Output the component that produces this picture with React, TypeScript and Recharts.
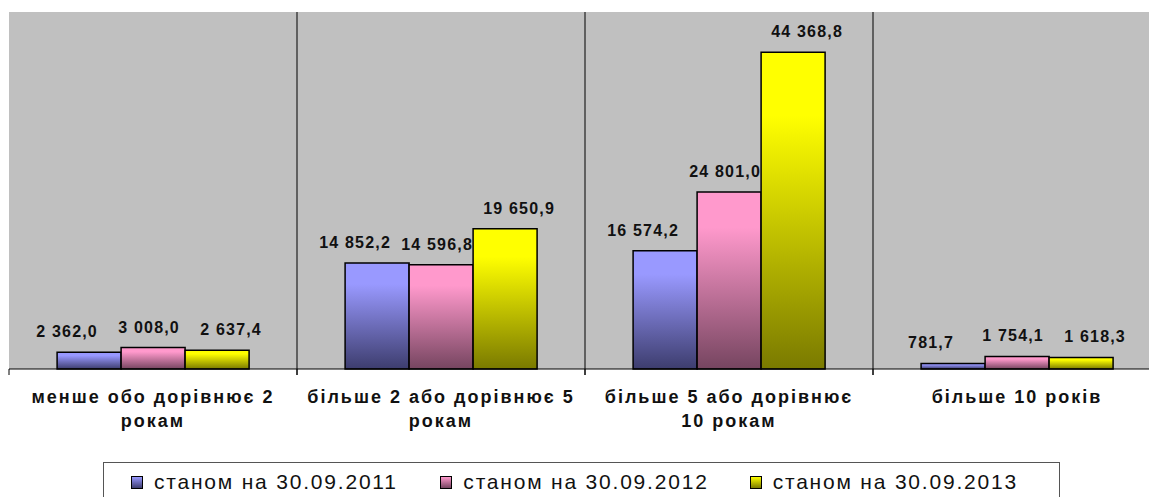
import React from 'react';
import { BarChart, Bar, XAxis, YAxis, CartesianGrid, Legend, LabelList } from 'recharts';

const categories = [
  'менше обо дорівнює 2\nрокам',
  'більше 2 або дорівнює 5\nрокам',
  'більше 5 або дорівнює\n10 рокам',
  'більше 10 років',
];
const values2011 = [2362.0, 14852.2, 16574.2, 781.7];
const values2012 = [3008.0, 14596.8, 24801.0, 1754.1];
const values2013 = [2637.4, 19650.9, 44368.8, 1618.3];
const seriesNames = ['станом на 30.09.2011', 'станом на 30.09.2012', 'станом на 30.09.2013'];

const data = categories.map((name, i) => ({
  name,
  s2011: values2011[i],
  s2012: values2012[i],
  s2013: values2013[i],
}));

// labelDx: Excel nudges the outer labels sideways so they don't collide
const SERIES = [
  { key: 's2011', name: seriesNames[0], top: '#9999ff', bottom: '#3d3d6e', labelDx: -22 },
  { key: 's2012', name: seriesNames[1], top: '#ff99cc', bottom: '#764560', labelDx: -4 },
  { key: 's2013', name: seriesNames[2], top: '#ffff00', bottom: '#7a7a00', labelDx: 14 },
];

const FONT = '"Liberation Sans", Arial, sans-serif';
const CHART_W = 1170;
const MARGIN = { top: 12, right: 9, left: 9, bottom: 42 };
const BAND = (CHART_W - MARGIN.left - MARGIN.right) / categories.length;

const fmt = (v: number) => {
  const [int, dec] = v.toFixed(1).split('.');
  return int.replace(/\B(?=(\d{3})+(?!\d))/g, ' ') + ',' + dec;
};

const ValueLabel = (props: any) => {
  const { x, y, width, value, dx = 0 } = props;
  return (
    <text
      x={x + width / 2 + dx}
      y={y - 15}
      textAnchor="middle"
      fontFamily={FONT}
      fontWeight="bold"
      fontSize={16}
      letterSpacing={1.2}
      fill="#111"
    >
      {fmt(value)}
    </text>
  );
};

const CategoryTick = (props: any) => {
  const { x, y, payload } = props;
  const lines = String(payload.value).split('\n');
  return (
    <g>
      <line x1={x - BAND / 2} x2={x - BAND / 2} y1={y} y2={y + 6} stroke="#000" />
      <line x1={x + BAND / 2} x2={x + BAND / 2} y1={y} y2={y + 6} stroke="#000" />
      {lines.map((line, i) => (
        <text
          key={i}
          x={x}
          y={y + 34 + i * 24}
          textAnchor="middle"
          fontFamily={FONT}
          fontWeight="bold"
          fontSize={18}
          letterSpacing={2}
          fill="#111"
        >
          {line}
        </text>
      ))}
    </g>
  );
};

const LegendBox = () => (
  <div
    style={{
      border: '1px solid #555',
      height: 40,
      boxSizing: 'border-box',
      display: 'flex',
      alignItems: 'center',
      paddingLeft: 27,
      fontFamily: FONT,
      fontSize: 21,
      letterSpacing: 1.8,
      color: '#111',
    }}
  >
    {SERIES.map((s) => (
      <div key={s.key} style={{ width: 320, display: 'flex', alignItems: 'center' }}>
        <span
          style={{
            display: 'inline-block',
            width: 10,
            height: 11,
            border: '1.5px solid #000',
            background: `linear-gradient(${s.top}, ${s.bottom})`,
            marginRight: 11,
          }}
        />
        <span>{s.name}</span>
      </div>
    ))}
  </div>
);

export default function App() {
  return (
    <div style={{ position: 'absolute', left: 0, top: 0, width: 1149, height: 497, overflow: 'hidden', background: '#fff' }}>
      <BarChart
        width={CHART_W}
        height={497}
        data={data}
        margin={MARGIN}
        barCategoryGap="16.7%"
        barGap={0}
      >
        <defs>
          {SERIES.map((s) => (
            <linearGradient key={s.key} id={`grad-${s.key}`} x1="0" y1="0" x2="0" y2="1">
              <stop offset="0%" stopColor={s.top} />
              <stop offset="20%" stopColor={s.top} />
              <stop offset="100%" stopColor={s.bottom} />
            </linearGradient>
          ))}
        </defs>
        <CartesianGrid
          fill="#c0c0c0"
          stroke="#000"
          strokeWidth={1}
          horizontal={false}
          vertical
          verticalCoordinatesGenerator={({ offset }: any) =>
            categories.slice(1).map((_, i) => offset.left + (offset.width * (i + 1)) / categories.length)
          }
        />
        <XAxis
          dataKey="name"
          height={86}
          axisLine={{ stroke: '#000' }}
          tickLine={false}
          tickSize={0}
          tickMargin={0}
          interval={0}
          tick={<CategoryTick />}
        />
        <YAxis hide domain={[0, 50000]} />
        <Legend
          layout="horizontal"
          verticalAlign="middle"
          content={<LegendBox />}
          wrapperStyle={{ position: 'absolute', left: 103, top: 462, width: 957, height: 40 }}
        />
        {SERIES.map((s) => (
          <Bar
            key={s.key}
            dataKey={s.key}
            name={s.name}
            fill={`url(#grad-${s.key})`}
            stroke="#000"
            strokeWidth={1.5}
            isAnimationActive={false}
          >
            <LabelList dataKey={s.key} content={(p: any) => <ValueLabel {...p} dx={s.labelDx} />} />
          </Bar>
        ))}
      </BarChart>
    </div>
  );
}
